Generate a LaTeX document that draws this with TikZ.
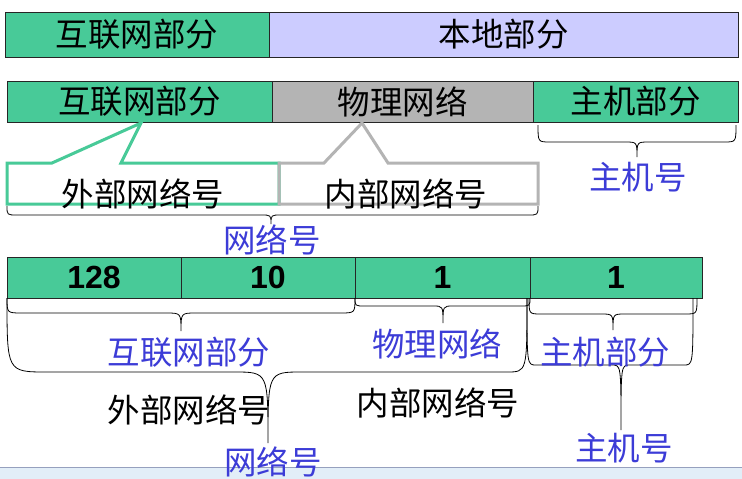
\documentclass[tikz,border=0pt]{standalone}
\usepackage{fontspec}
\newfontfamily\cjkfont{Noto Sans CJK SC}
\newfontfamily\numfont{Liberation Sans}
\definecolor{boxgreen}{RGB}{72,202,152}
\definecolor{lavender}{RGB}{204,204,255}
\definecolor{boxgray}{RGB}{180,180,180}
\definecolor{lblue}{RGB}{60,60,215}
\definecolor{stripfill}{RGB}{226,238,248}
\definecolor{stripline}{RGB}{150,160,190}
\newcommand\pbrace[9]{%
  \draw[bracestyle] (#1,#3) .. controls (#1,#4) .. ({#1+#7},#4) -- ({#5-#8},#4)
    .. controls (#5,#4) .. (#5,#6) .. controls (#5,#4) .. ({#5+#8},#4)
    -- ({#2-#9},#4) .. controls (#2,#4) .. (#2,#3);}
\tikzset{
  field/.style={draw=black!85, line width=0.8pt, inner sep=0pt, outer sep=0pt,
    anchor=north west, font=\cjkfont\fontsize{32.5}{32.5}\selectfont},
  numfield/.style={field, fill=boxgreen, minimum height=41pt,
    font=\numfont\bfseries\fontsize{32}{32}\selectfont},
  lbl/.style={font=\cjkfont\fontsize{32.5}{32.5}\selectfont, inner sep=0pt},
  bluelbl/.style={lbl, text=lblue},
  bracestyle/.style={draw=black, line width=0.8pt},
  callgreen/.style={draw=boxgreen, line width=3pt, line join=miter},
  callgray/.style={draw=boxgray, line width=3pt, line join=miter}
}
\begin{document}
\begin{tikzpicture}[x=1pt,y=-1pt]
\useasboundingbox (0,0) rectangle (742,479);
\fill[white] (0,0) rectangle (742,479);
% bottom strip
\fill[stripfill] (0,467) rectangle (742,479);
\draw[stripline, line width=1pt] (0,467) -- (742,467);
% row 1
\node[field, fill=boxgreen, minimum width=264pt, minimum height=45pt] (r1a) at (5,12) {互联网部分};
\node[field, fill=lavender, minimum width=469pt, minimum height=45pt] (r1b) at (269,12) {本地部分};
% row 2
\node[field, fill=boxgreen, minimum width=265pt, minimum height=41pt] (r2a) at (7,81) {互联网部分};
\node[field, fill=boxgray, minimum width=261pt, minimum height=41pt] (r2b) at (272,81) {物理网络};
\node[field, fill=boxgreen, minimum width=205pt, minimum height=41pt] (r2c) at (533,81) {主机部分};
% callouts
\draw[callgreen] (7,163) -- (52,163) -- (141,123) -- (121,163) -- (279,163) -- (279,204) -- (7,204) -- cycle;
\draw[callgray] (279,163) -- (324,163) -- (362,123) -- (388,163) -- (538,163) -- (538,204) -- (279,204) -- cycle;
\node[lbl] (ext1) at (143,194) {外部网络号};
\node[lbl] (int1) at (406,194) {内部网络号};
% braces upper
\pbrace{7}{538}{206}{215}{271}{224}{10}{10}{10}
\node[bluelbl] (net1) at (272,240) {网络号};
\pbrace{538}{736}{125}{142}{637}{157}{12}{12}{12}
\node[bluelbl] (host1) at (638,177) {主机号};
% row 3
\node[numfield, minimum width=174pt] (n1) at (7,257) {128};
\node[numfield, minimum width=174pt] (n2) at (181,257) {10};
\node[numfield, minimum width=175pt] (n3) at (355,257) {1};
\node[numfield, minimum width=172pt] (n4) at (530,257) {1};
% braces lower
\pbrace{7}{355}{298}{313}{181}{331}{15}{15}{15}
\pbrace{355}{530}{298}{306}{443}{323}{10}{10}{10}
\pbrace{529}{697}{298}{314}{613}{330}{12}{12}{12}
\pbrace{7}{527}{298}{372}{268}{443}{40}{34}{20}
\pbrace{527}{693}{298}{365}{621}{430}{9}{9}{9}
\node[bluelbl] (inet2) at (189,352) {互联网部分};
\node[bluelbl] (phys2) at (437,344) {物理网络};
\node[bluelbl] (hostp2) at (605,352) {主机部分};
\node[lbl] (ext2) at (189,410) {外部网络号};
\node[lbl] (int2) at (438,403) {内部网络号};
\node[bluelbl] (net2) at (273,462) {网络号};
\node[bluelbl] (host2) at (624,448) {主机号};
\end{tikzpicture}
\end{document}
